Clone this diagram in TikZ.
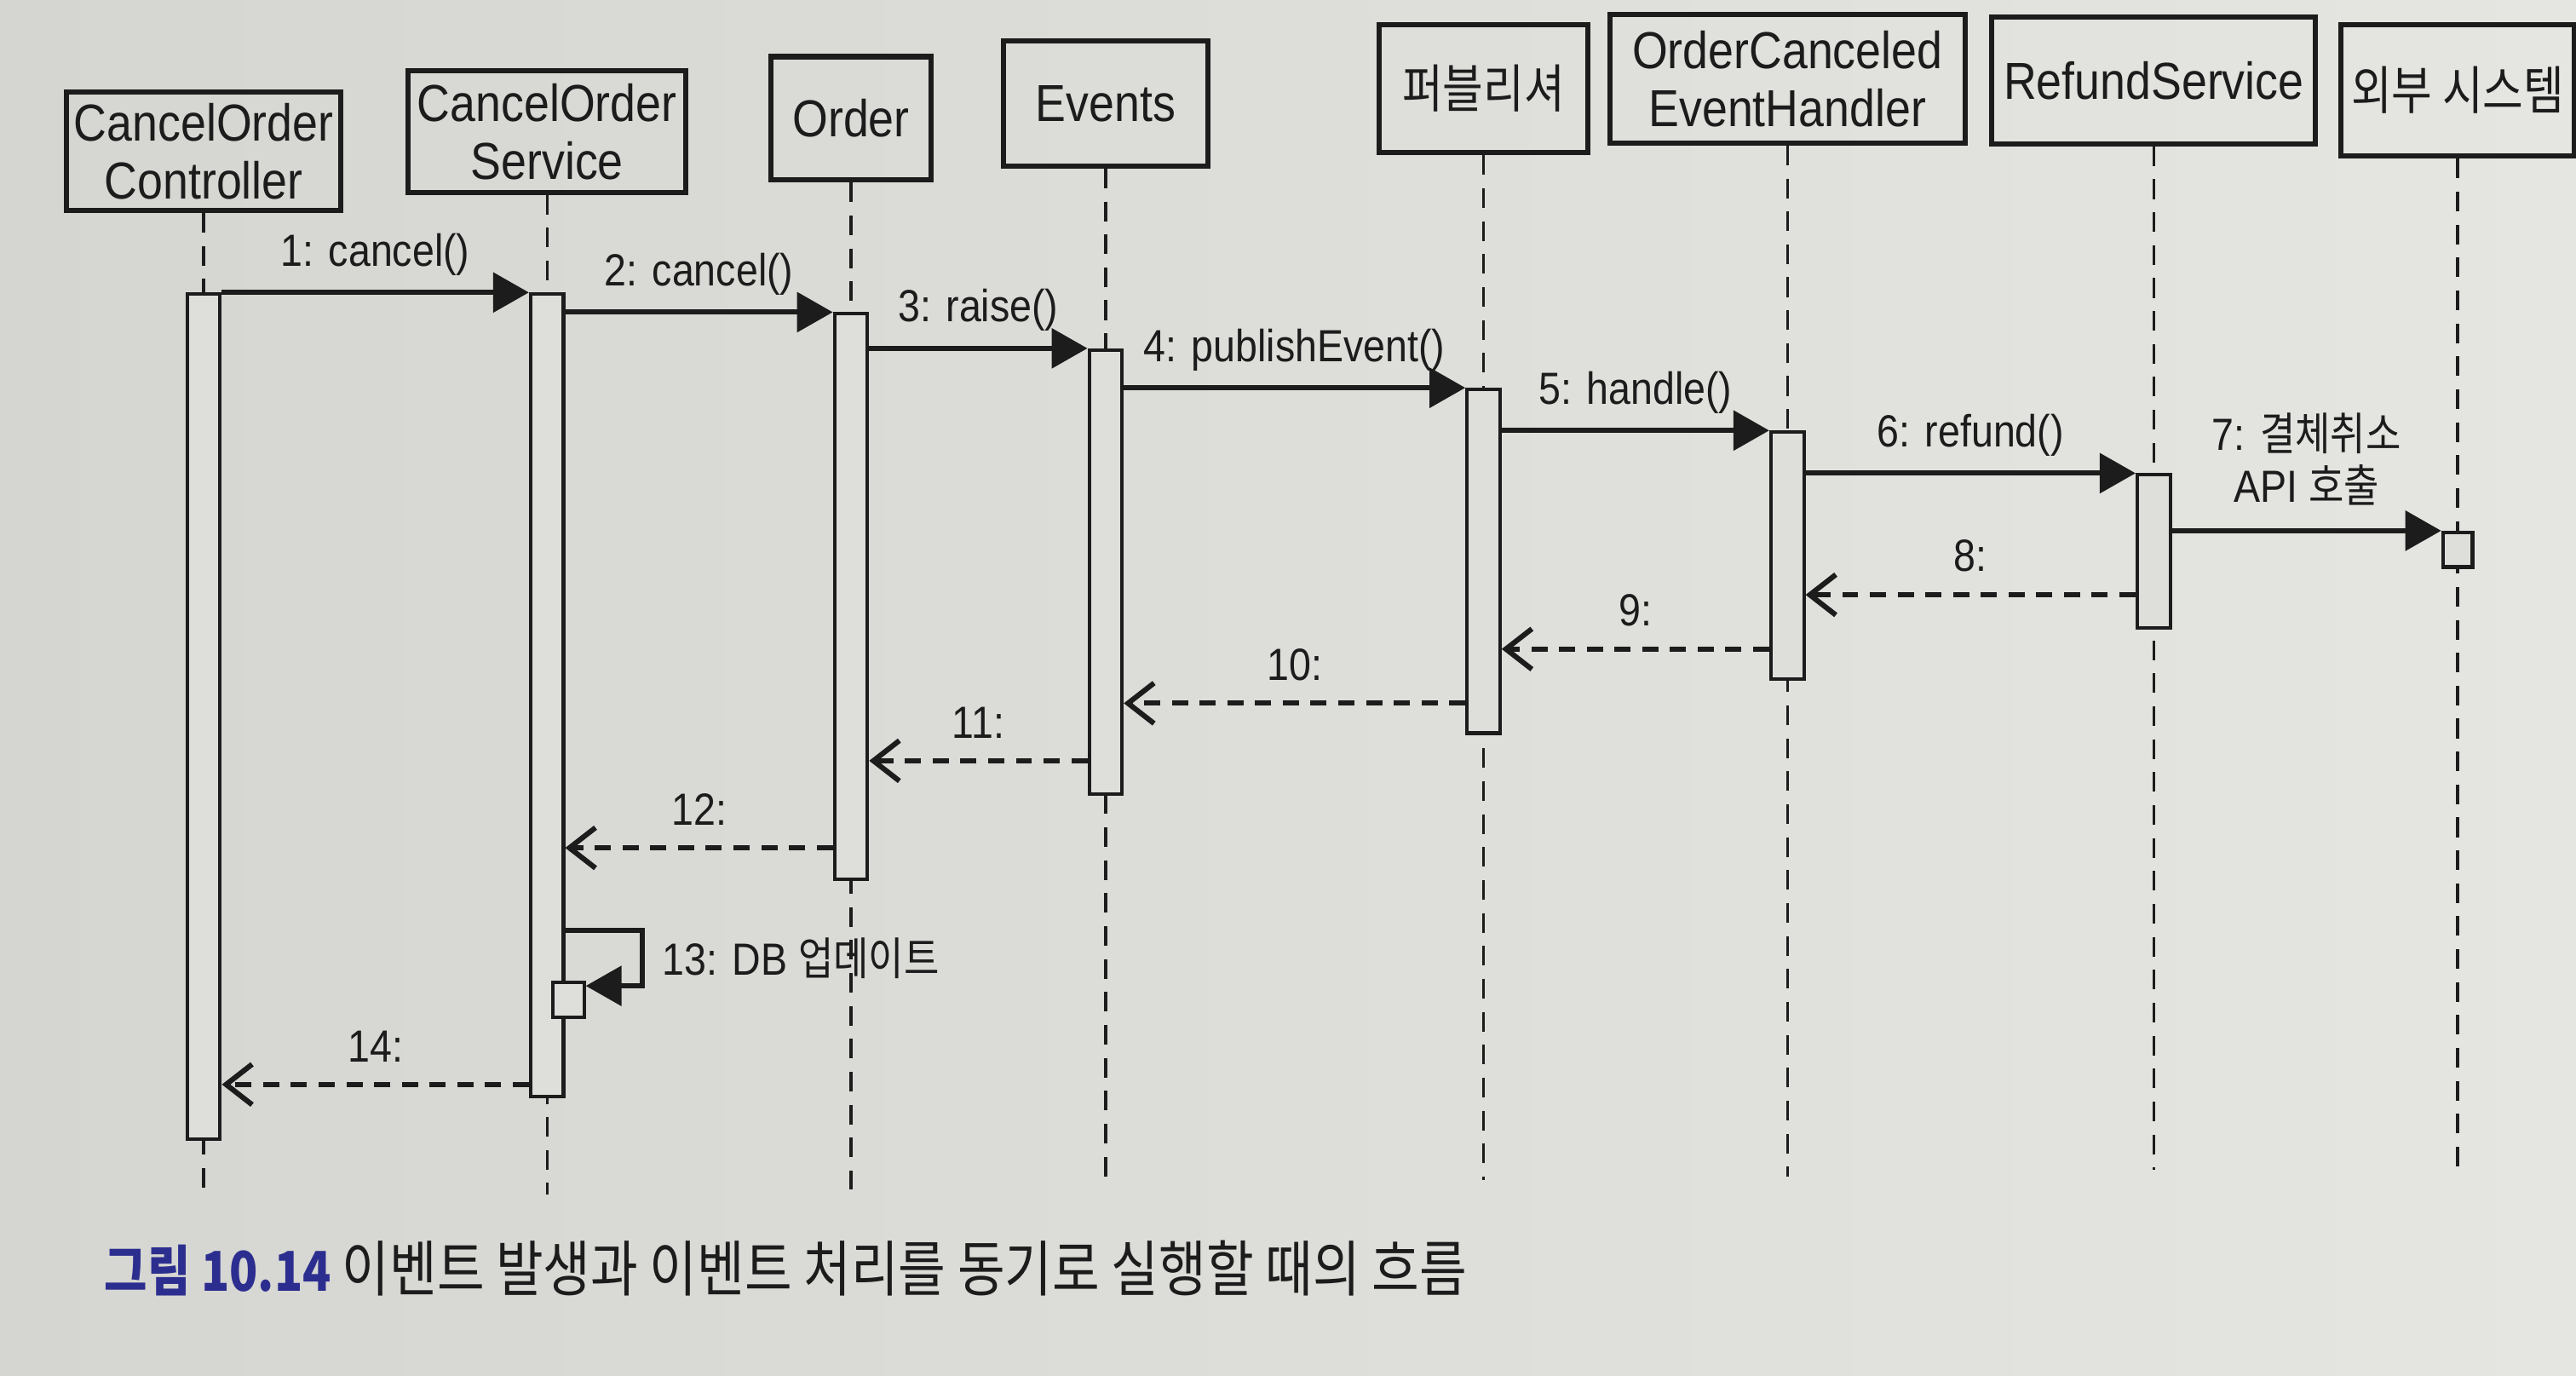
\documentclass[tikz,border=0pt]{standalone}
\usepackage{fontspec}
\setmainfont[FakeStretch=0.88]{Liberation Sans}
\newfontfamily\kr[FakeStretch=0.85]{Noto Sans CJK KR}
\usepackage{xcolor}
\usetikzlibrary{positioning, arrows.meta, calc}
\definecolor{ink}{HTML}{1C1C1C}
\definecolor{paper}{HTML}{DEDEDA}
\definecolor{paperdark}{HTML}{D5D5D1}
\definecolor{paperlight}{HTML}{E5E5E1}
\definecolor{figblue}{HTML}{2C2E8F}

\begin{document}
\begin{tikzpicture}[
    x=0.01cm, y=-0.01cm,
    lifebox/.style={rectangle, draw=ink, line width=0.9pt, text=ink, align=center,
                    font=\fontsize{9}{10}\selectfont, inner sep=1pt},
    actbar/.style={rectangle, draw=ink, fill=paper, line width=0.6pt,
                   minimum width=0.2cm, inner sep=0pt, anchor=north},
    lifeline/.style={ink, line width=0.5pt, dash pattern=on 3.4pt off 2.3pt},
    call/.style={-{Triangle[length=6.2pt, width=6.8pt]}, ink, line width=0.9pt},
    ret/.style={-{Straight Barb[length=4.5pt, width=7pt]}, ink, line width=0.9pt,
                dash pattern=on 2.8pt off 2pt},
    msg/.style={font=\fontsize{7.8}{9}\selectfont, text=ink, align=center, inner sep=1pt}
  ]
    \useasboundingbox (0,0) rectangle (1568,837);
    \shade[left color=paperdark, right color=paperlight] (0,0) rectangle (1568,837);

    % participants
    \node[lifebox, minimum width=1.67cm, minimum height=0.72cm] (ctrl) at (124,92) {CancelOrder\\Controller};
    \node[lifebox, minimum width=1.69cm, minimum height=0.74cm] (svc) at (333,80) {CancelOrder\\Service};
    \node[lifebox, minimum width=0.97cm, minimum height=0.75cm] (order) at (518,72) {Order};
    \node[lifebox, minimum width=1.24cm, minimum height=0.76cm] (events) at (673,63) {Events};
    \node[lifebox, minimum width=1.27cm, minimum height=0.78cm] (pub) at (903,54) {{\kr 퍼블리셔}};
    \node[lifebox, minimum width=2.16cm, minimum height=0.78cm] (handler) at (1088,48) {OrderCanceled\\EventHandler};
    \node[lifebox, minimum width=1.97cm, minimum height=0.77cm] (refund) at (1311,49) {RefundService};
    \node[lifebox, minimum width=1.42cm, minimum height=0.80cm] (ext) at (1496,55) {{\kr 외부 시스템}};

    % lifelines
    \draw[lifeline] (ctrl) -- (ctrl |- 0,730);
    \draw[lifeline] (svc) -- (svc |- 0,727);
    \draw[lifeline] (order) -- (order |- 0,724);
    \draw[lifeline] (events) -- (events |- 0,722);
    \draw[lifeline] (pub) -- (pub |- 0,718);
    \draw[lifeline] (handler) -- (handler |- 0,716);
    \draw[lifeline] (refund) -- (refund |- 0,712);
    \draw[lifeline] (ext) -- (ext |- 0,710);

    % activations
    \node[actbar, minimum height=5.14cm] (ctrlbar) at (ctrl.south |- 0,178) {};
    \node[actbar, minimum height=4.88cm] (svcbar) at (svc.south |- 0,178) {};
    \node[actbar, minimum height=3.44cm] (orderbar) at (order.south |- 0,190) {};
    \node[actbar, minimum height=2.70cm] (eventsbar) at (events.south |- 0,212) {};
    \node[actbar, minimum height=2.09cm] (pubbar) at (pub.south |- 0,236) {};
    \node[actbar, minimum height=1.50cm] (handlerbar) at (handler.south |- 0,262) {};
    \node[actbar, minimum height=0.93cm] (refundbar) at (refund.south |- 0,288) {};
    \node[actbar, minimum width=0.18cm, minimum height=0.21cm] (extbar) at (ext.south |- 0,323) {};
    \node[actbar, minimum width=0.19cm, minimum height=0.21cm] (selfbar) at (346,597) {};

    % calls
    \draw[call] (ctrlbar.east |- svcbar.north) -- node[msg, above=1.5pt] {1: cancel()} (svcbar.north west);
    \draw[call] (svcbar.east |- orderbar.north) -- node[msg, above=1.5pt] {2: cancel()} (orderbar.north west);
    \draw[call] (orderbar.east |- eventsbar.north) -- node[msg, above=1.5pt] {3: raise()} (eventsbar.north west);
    \draw[call] (eventsbar.east |- pubbar.north) -- node[msg, above=1.5pt] {4: publishEvent()} (pubbar.north west);
    \draw[call] (pubbar.east |- handlerbar.north) -- node[msg, above=1.5pt] {5: handle()} (handlerbar.north west);
    \draw[call] (handlerbar.east |- refundbar.north) -- node[msg, above=1.5pt] {6: refund()} (refundbar.north west);
    \draw[call] (refundbar.east |- extbar.north) -- node[msg, above=3pt] {7: {\kr 결체취소}\\API {\kr 호출}} (extbar.north west);

    % returns
    \draw[ret] (refundbar.west |- 0,362) -- node[msg, above=2.5pt] {8:} (handlerbar.east |- 0,362);
    \draw[ret] (handlerbar.west |- 0,395) -- node[msg, above=2.5pt] {9:} (pubbar.east |- 0,395);
    \draw[ret] (pubbar.west |- 0,428) -- node[msg, above=2.5pt] {10:} (eventsbar.east |- 0,428);
    \draw[ret] (eventsbar.west |- 0,463) -- node[msg, above=2.5pt] {11:} (orderbar.east |- 0,463);
    \draw[ret] (orderbar.west |- 0,516) -- node[msg, above=2.5pt] {12:} (svcbar.east |- 0,516);

    % self call
    \draw[call] (svcbar.east |- 0,566) -- (391,566) -- node[msg, right=2pt] {13: DB {\kr 업데이트}} (391,600) -- (selfbar.east |- 0,600);

    \draw[ret] (svcbar.west |- 0,660) -- node[msg, above=2.5pt] {14:} (ctrlbar.east |- 0,660);

    % caption
    \node[anchor=west, inner sep=0pt, text=ink] (cap) at (63,772)
      {\kr{\fontsize{9.5}{11}\selectfont\bfseries\color{figblue}그림 10.14} \fontsize{10.5}{12}\selectfont 이벤트 발생과 이벤트 처리를 동기로 실행할 때의 흐름};
\end{tikzpicture}
\end{document}
